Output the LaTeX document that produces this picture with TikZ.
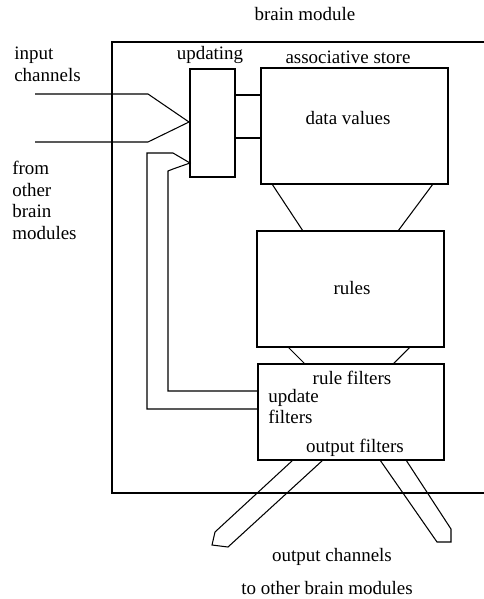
\documentclass[tikz,border=0pt]{standalone}
\usepackage{fontspec}
\setmainfont{Liberation Serif}
\usepackage{tikz}
\pgfdeclarelayer{edgelayer}
\pgfdeclarelayer{nodelayer}
\pgfsetlayers{edgelayer,nodelayer,main}
\tikzstyle{edge}=[draw=black, line width=0.75pt]
\tikzstyle{box}=[rectangle, draw=black, line width=0.75pt, inner sep=0pt]
\tikzstyle{caption}=[inner sep=0pt, font=\rmfamily\fontsize{13.5}{15.4}\selectfont]

\begin{document}
\begin{tikzpicture}
	\useasboundingbox (0, 0) rectangle (12.1, -14.975);
	\begin{pgfonlayer}{nodelayer}
		\node [style=box, minimum width=1.125cm, minimum height=2.7cm] (1) at (5.3125, -3.075) {};
		\node [style=box, minimum width=4.675cm, minimum height=2.9cm] (2) at (8.8625, -3.15) {};
		\node [style=box, minimum width=4.675cm, minimum height=2.9cm] (3) at (8.7625, -7.225) {};
		\node [style=box, minimum width=4.65cm, minimum height=2.4cm] (4) at (8.775, -10.3) {};

		\node [style=caption] (5) at (7.625, -0.35) {brain module};
		\node [style=caption] (6) at (5.25, -1.375) {updating};
		\node [style=caption] (7) at (8.7, -1.425) {associative store};
		\node [style=caption] (8) at (8.7, -2.95) {data values};
		\node [style=caption] (9) at (8.8, -7.2) {rules};
		\node [style=caption] (10) at (8.8, -9.45) {rule filters};
		\node [style=caption, align=left, anchor=west] (11) at (6.7, -10.1625) {update\\filters};
		\node [style=caption] (12) at (8.875, -11.2) {output filters};
		\node [style=caption, align=left, anchor=west] (13) at (0.35, -1.6125) {input\\channels};
		\node [style=caption, align=left, anchor=west] (14) at (0.3, -5.0125) {from\\other\\brain\\modules};
		\node [style=caption] (15) at (8.3, -13.925) {output channels};
		\node [style=caption] (16) at (8.175, -14.7) {to other brain modules};
	\end{pgfonlayer}
	\begin{pgfonlayer}{edgelayer}
		% outer module frame, open to the right
		\coordinate (20) at (12.1, -1.05);
		\coordinate (21) at (2.8, -1.05);
		\coordinate (22) at (2.8, -12.325);
		\coordinate (23) at (12.1, -12.325);
		\draw [style=edge] (20) -- (21) -- (22) -- (23);

		% input channels
		\coordinate (24) at (0.875, -2.35);
		\coordinate (25) at (3.7, -2.35);
		\coordinate (26) at (4.725, -3.05);
		\coordinate (27) at (3.7, -3.55);
		\coordinate (28) at (0.875, -3.55);
		\draw [style=edge] (24) -- (25) -- (26) -- (27) -- (28);

		% updating to store
		\coordinate (29) at (5.875, -2.375);
		\coordinate (30) at (6.525, -2.375);
		\coordinate (31) at (5.875, -3.45);
		\coordinate (32) at (6.525, -3.45);
		\draw [style=edge] (29) to (30);
		\draw [style=edge] (31) to (32);

		% feedback from the update filters
		\coordinate (33) at (6.45, -10.225);
		\coordinate (34) at (3.675, -10.225);
		\coordinate (35) at (3.675, -3.825);
		\coordinate (36) at (4.325, -3.825);
		\coordinate (37) at (4.75, -4.075);
		\coordinate (38) at (4.325, -4.225);
		\coordinate (39) at (4.2, -4.275);
		\coordinate (40) at (4.2, -9.775);
		\coordinate (41) at (6.45, -9.775);
		\draw [style=edge] (33) -- (34) -- (35) -- (36) -- (37) -- (38) -- (39) -- (40) -- (41);

		% store to rules to filters
		\coordinate (42) at (6.8, -4.6);
		\coordinate (43) at (7.575, -5.775);
		\coordinate (44) at (10.825, -4.6);
		\coordinate (45) at (9.95, -5.775);
		\coordinate (46) at (7.2, -8.675);
		\coordinate (47) at (7.625, -9.1);
		\coordinate (48) at (10.25, -8.675);
		\coordinate (49) at (9.825, -9.1);
		\draw [style=edge] (42) to (43);
		\draw [style=edge] (44) to (45);
		\draw [style=edge] (46) to (47);
		\draw [style=edge] (48) to (49);

		% output channels
		\coordinate (50) at (7.325, -11.5);
		\coordinate (51) at (5.375, -13.3);
		\coordinate (52) at (5.3, -13.625);
		\coordinate (53) at (5.7, -13.675);
		\coordinate (54) at (8.075, -11.5);
		\draw [style=edge] (50) -- (51) -- (52) -- (53) -- (54);
		\coordinate (55) at (9.5, -11.5);
		\coordinate (56) at (10.925, -13.55);
		\coordinate (57) at (11.275, -13.55);
		\coordinate (58) at (11.275, -13.225);
		\coordinate (59) at (10.15, -11.5);
		\draw [style=edge] (55) -- (56) -- (57) -- (58) -- (59);
	\end{pgfonlayer}
\end{tikzpicture}
\end{document}
